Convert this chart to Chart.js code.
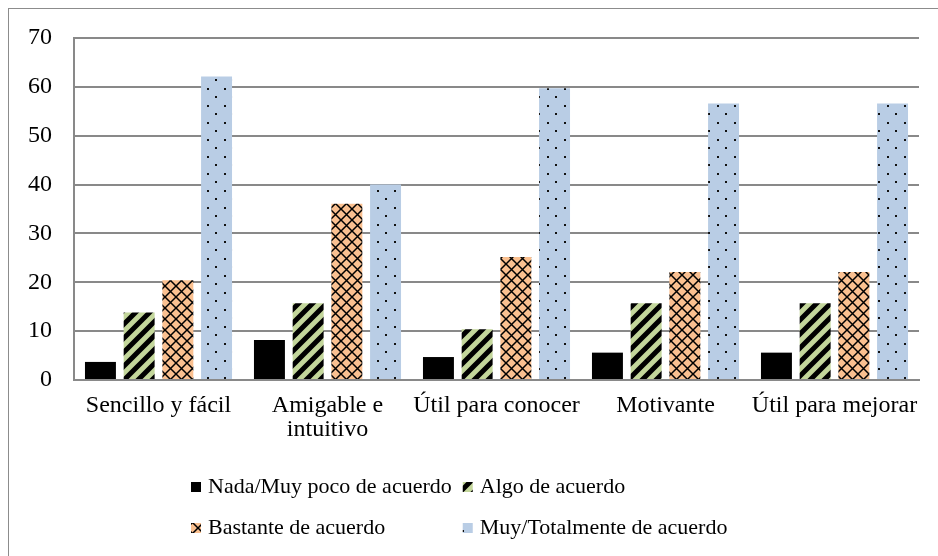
<!DOCTYPE html>
<html>
<head>
<meta charset="utf-8">
<script src="https://cdn.jsdelivr.net/npm/chart.js@4.4.1/dist/chart.umd.min.js"></script>
<style>
    html, body { margin: 0; padding: 0; background: #fff; overflow: hidden; }
    #marco { position: absolute; left: 8px; top: 8px; width: 960px; height: 580px; border: 1.5px solid #8c8c8c; }
    #contenedor { position: absolute; left: 0; top: 0; width: 938px; height: 556px; }
</style>
</head>
<body>
<div id="marco"></div>
<div id="contenedor"><canvas id="graficoValoracion"></canvas></div>
<script>
const categorias = ['Sencillo y fácil', ['Amigable e', 'intuitivo'], 'Útil para conocer', 'Motivante', 'Útil para mejorar'];
const nadaPoco = [3.7, 8.2, 4.7, 5.6, 5.6];
const algo = [13.8, 15.7, 10.4, 15.7, 15.7];
const bastante = [20.4, 36.1, 25.2, 22.1, 22.1];
const muyTotal = [62.1, 40.0, 59.7, 56.6, 56.6];
const ticksY = [0, 10, 20, 30, 40, 50, 60, 70];

document.addEventListener('DOMContentLoaded', () => {
    const fuente = '"Liberation Serif", "Times New Roman", serif';
    Chart.defaults.font.family = fuente;
    Chart.defaults.font.size = 24;
    Chart.defaults.color = '#000';

    function crearTrama(ancho, alto, fondo, dibujar) {
        const c = document.createElement('canvas');
        c.width = ancho;
        c.height = alto;
        const g = c.getContext('2d');
        g.fillStyle = fondo;
        g.fillRect(0, 0, ancho, alto);
        dibujar(g, ancho, alto);
        return document.createElement('canvas').getContext('2d').createPattern(c, 'repeat');
    }

    // rayas diagonales anchas
    const tramaRayas = crearTrama(14, 14, '#c3d69b', (g, t) => {
        g.strokeStyle = '#000';
        g.lineWidth = 5;
        g.beginPath();
        g.moveTo(-2, t + 2); g.lineTo(t + 2, -2);
        g.moveTo(-4, 4); g.lineTo(4, -4);
        g.moveTo(t - 4, t + 4); g.lineTo(t + 4, t - 4);
        g.stroke();
    });

    // cuadrícula diagonal
    const tramaRombos = crearTrama(11, 11, '#fac090', (g, t) => {
        g.strokeStyle = '#000';
        g.lineWidth = 1.5;
        g.beginPath();
        g.moveTo(0, 0); g.lineTo(t, t);
        g.moveTo(0, t); g.lineTo(t, 0);
        g.stroke();
    });

    // puntos al tresbolillo
    const tramaPuntos = crearTrama(17, 17, '#b9cde5', (g) => {
        g.fillStyle = '#111';
        g.fillRect(3, 3, 2, 2);
        g.fillRect(11, 11, 2, 2);
    });

    const leyendaPlugin = {
        id: 'leyendaDosColumnas',
        afterDraw(chart) {
            const ctx = chart.ctx;
            const sets = chart.data.datasets;
            const caja = 10, hueco = 7;
            ctx.save();
            ctx.font = '22px ' + fuente;
            const anchos = sets.map(d => caja + hueco + ctx.measureText(d.label).width);
            const col0 = Math.max(anchos[0], anchos[2]) + 11;
            const x0 = chart.chartArea.left + 117;
            const y0 = chart.scales.x.bottom + 37;
            sets.forEach((d, i) => {
                const x = x0 + (i % 2) * col0;
                const y = y0 + Math.floor(i / 2) * 41;
                ctx.fillStyle = d.backgroundColor;
                ctx.fillRect(x, y - caja / 2, caja, caja);
                ctx.fillStyle = '#000';
                ctx.textBaseline = 'middle';
                ctx.textAlign = 'left';
                ctx.fillText(d.label, x + caja + hueco, y);
            });
            ctx.restore();
        }
    };

    const ctx = document.getElementById('graficoValoracion').getContext('2d');
    new Chart(ctx, {
        type: 'bar',
        data: {
            labels: categorias,
            datasets: [
                { label: 'Nada/Muy poco de acuerdo', data: nadaPoco, backgroundColor: '#000000' },
                { label: 'Algo de acuerdo', data: algo, backgroundColor: tramaRayas },
                { label: 'Bastante de acuerdo', data: bastante, backgroundColor: tramaRombos },
                { label: 'Muy/Totalmente de acuerdo', data: muyTotal, backgroundColor: tramaPuntos }
            ]
        },
        options: {
            responsive: true,
            maintainAspectRatio: false,
            animation: false,
            datasets: {
                bar: { categoryPercentage: 0.916, barPercentage: 0.8 }
            },
            layout: {
                padding: { left: 10, right: 19, top: 38, bottom: 106 }
            },
            scales: {
                x: {
                    grid: { display: false, drawTicks: false },
                    border: { display: true, color: '#898989', width: 2 },
                    ticks: { padding: 14, maxRotation: 0, autoSkip: false, font: { lineHeight: 1.0 } },
                    afterFit: (scale) => { scale.height = 70; }
                },
                y: {
                    min: 0,
                    max: 70,
                    afterBuildTicks: (scale) => { scale.ticks = ticksY.map(v => ({ value: v })); },
                    grid: { color: '#898989', lineWidth: 2, drawTicks: false },
                    border: { display: true, color: '#898989', width: 2 },
                    ticks: { padding: 22 },
                    afterFit: (scale) => { scale.width = 64; }
                }
            },
            plugins: {
                legend: { display: false },
                tooltip: { enabled: false }
            }
        },
        plugins: [leyendaPlugin]
    });
});
</script>
</body>
</html>
